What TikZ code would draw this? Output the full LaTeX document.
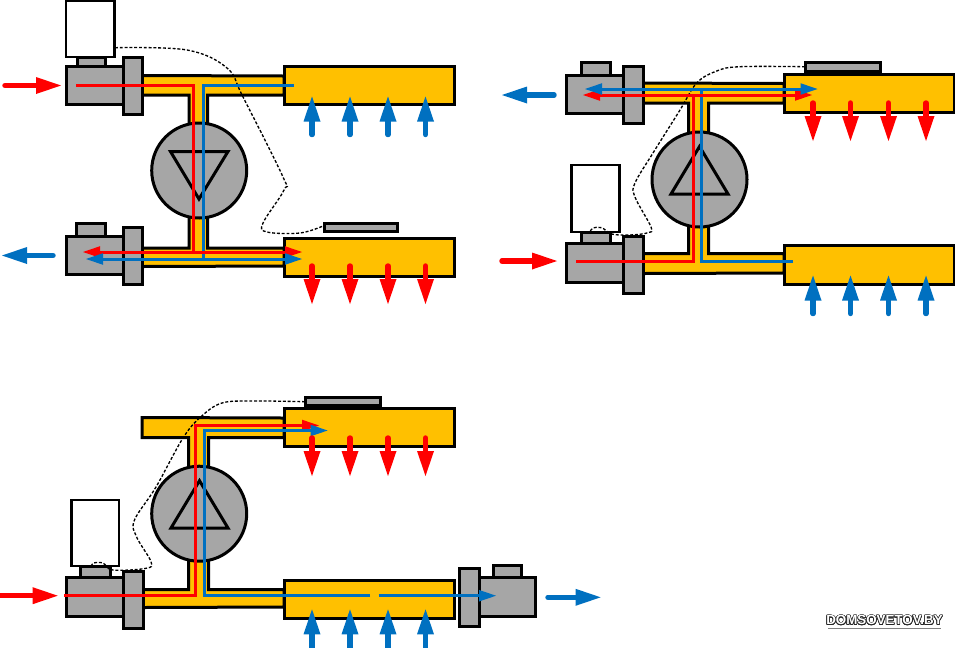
\documentclass[tikz,border=0pt]{standalone}
\usepackage{xcolor}
\usepackage{contour}
\usepackage{fontspec}
\setsansfont{Liberation Sans}
\definecolor{hotred}{RGB}{255,0,0}
\definecolor{coldblue}{RGB}{0,112,192}
\contourlength{0.45pt}
\tikzset{
  casing/.style={fill={rgb, 255:red, 166; green, 166; blue, 166 }, line width=2.25pt},
  waterpipe/.style={fill={rgb, 255:red, 255; green, 192; blue, 0 }, line width=2.25pt},
  actuator/.style={fill=white, line width=1.9pt},
  wire/.style={line width=1pt, dash pattern=on 2.2pt off 1.4pt},
  flowline/.style={line width=2.25pt},
  fatline/.style={line width=4.1pt, line cap=round}
}
%tips: (0,0) is the point, rotate = 180 looks right, -90 looks down
\newcommand{\bighead}[3]{\fill [#1, shift={(#2)}, rotate=#3] (25,-8.5) -- (0,0) -- (25,8.5) -- cycle ;}
\newcommand{\thinhead}[3]{\fill [#1, shift={(#2)}, rotate=#3] (17,-5.8) -- (0,0) -- (17,5.8) -- cycle ;}
\newcommand{\fatdown}[3]{\draw [fatline, #1] (#2,#3-38) -- (#2,#3-24) ; \bighead{#1}{#2,#3}{-90}}
\newcommand{\fatup}[3]{\draw [fatline, #1] (#2,#3+38) -- (#2,#3+24) ; \bighead{#1}{#2,#3}{90}}
\newcommand{\fatright}[4]{\draw [fatline, #1] (#2,#4) -- (#3-24,#4) ; \bighead{#1}{#3,#4}{180}}
\newcommand{\fatleft}[4]{\draw [fatline, #1] (#2,#4) -- (#3+24,#4) ; \bighead{#1}{#3,#4}{0}}

\begin{document}
\begin{tikzpicture}[x=0.75pt,y=0.75pt,yscale=-1,xscale=1]
\useasboundingbox (0,0) rectangle (955,647);

%Pipes, left top
\draw [waterpipe] (142,75.5) -- (284,76) -- (284,95) -- (207.5,95) -- (207.5,130) -- (189,130) -- (189,95) -- (142,95) -- cycle ;
\draw [waterpipe] (142,266.5) -- (284,266) -- (284,248) -- (207.5,248) -- (207.5,210) -- (189,210) -- (189,248) -- (142,248) -- cycle ;
%Pump
\draw [casing] (199.2,170.5) circle (47.5) ;
\draw [line width=2.25pt] (170.5,151.5) -- (228,151.5) -- (199,199) -- cycle ;
%Valves
\draw [casing] (66,66) -- (123,66) -- (123,104.5) -- (66,104.5) -- cycle ;
\draw [casing] (123,57) -- (142.5,57) -- (142.5,114) -- (123,114) -- cycle ;
\draw [casing] (77,57) -- (105,57) -- (105,66) -- (77,66) -- cycle ;
\draw [actuator] (66,0.5) -- (114.5,0.5) -- (114.5,57) -- (66,57) -- cycle ;
\draw [casing] (76,223) -- (105,223) -- (105,236) -- (76,236) -- cycle ;
\draw [casing] (66,236) -- (123,236) -- (123,274) -- (66,274) -- cycle ;
\draw [casing] (123,227) -- (142.5,227) -- (142.5,284) -- (123,284) -- cycle ;
%Manifolds
\draw [waterpipe] (284,66.5) -- (454.5,66.5) -- (454.5,104.5) -- (284,104.5) -- cycle ;
\draw [waterpipe] (284,238.5) -- (454.5,238.5) -- (454.5,276.5) -- (284,276.5) -- cycle ;
\draw [casing] (324,223) -- (397,223) -- (397,231) -- (324,231) -- cycle ;
%Wire
\draw [wire] plot [smooth, tension=0.6] coordinates {(115,47.7) (187,50) (227,68) (243,97) (283,177) (284,190) (263,223) (267,232) (300,233) (323,226)} ;
%Straight Lines
\draw [flowline, hotred] (76,85.5) -- (193,85.5) -- (193,252) ;
\draw [flowline, coldblue] (294,85.5) -- (203,85.5) -- (203,259) ;
\draw [flowline, hotred] (95,252) -- (290,252) ;
\thinhead{hotred}{83,252}{0}
\thinhead{hotred}{302,252}{180}
\draw [flowline, coldblue] (98,259) -- (290,259) ;
\thinhead{coldblue}{86,259}{0}
\thinhead{coldblue}{302,259}{180}
\fatright{hotred}{5}{61}{85.5}
\fatleft{coldblue}{53}{2}{255.5}
\fatup{coldblue}{312}{96.5}
\fatup{coldblue}{350}{96.5}
\fatup{coldblue}{388}{96.5}
\fatup{coldblue}{425.5}{96.5}
\fatdown{hotred}{312}{304}
\fatdown{hotred}{350}{304}
\fatdown{hotred}{388}{304}
\fatdown{hotred}{425.5}{304}

%Pipes, right top
\draw [waterpipe] (643,83) -- (784,83.5) -- (784,103) -- (708.5,103) -- (708.5,140) -- (688.5,140) -- (688.5,103) -- (643,103) -- cycle ;
\draw [waterpipe] (643,273.5) -- (784,273) -- (784,253.5) -- (708.5,253.5) -- (708.5,220) -- (688.5,220) -- (688.5,253.5) -- (643,253.5) -- cycle ;
%Pump
\draw [casing] (699.5,179.5) circle (47.5) ;
\draw [line width=2.25pt] (671,194) -- (728,194) -- (699.5,146.5) -- cycle ;
%Valves
\draw [casing] (581,62.5) -- (610,62.5) -- (610,75) -- (581,75) -- cycle ;
\draw [casing] (566.7,75) -- (623.5,75) -- (623.5,113) -- (566.7,113) -- cycle ;
\draw [casing] (623.5,66) -- (643,66) -- (643,123) -- (623.5,123) -- cycle ;
\draw [casing] (581,232) -- (610,232) -- (610,243.5) -- (581,243.5) -- cycle ;
\draw [actuator] (571.5,165) -- (619.5,165) -- (619.5,232) -- (571.5,232) -- cycle ;
\draw [casing] (566.7,243.5) -- (623.5,243.5) -- (623.5,282) -- (566.7,282) -- cycle ;
\draw [casing] (623.5,236.5) -- (643,236.5) -- (643,293) -- (623.5,293) -- cycle ;
%Manifolds
\draw [waterpipe] (784.3,74) -- (954,74) -- (954,112) -- (784.3,112) -- cycle ;
\draw [waterpipe] (784.3,245.5) -- (954,245.5) -- (954,284) -- (784.3,284) -- cycle ;
\draw [casing] (805,62.5) -- (880,62.5) -- (880,71) -- (805,71) -- cycle ;
%Wire
\draw [wire] plot [smooth, tension=0.6] coordinates {(805,66.7) (740,66.7) (716.7,71) (696.7,83) (680,110) (653,153) (635,183) (635,197) (651,227) (648,232.7) (630,235) (611.7,234) (601.7,227.7) (593,228) (590,232)} ;
%Straight Lines
\draw [flowline, hotred] (576,261) -- (693.5,261) -- (693.5,95) ;
\draw [flowline, coldblue] (793,261) -- (701.5,261) -- (701.5,89) ;
\draw [flowline, hotred] (595,95) -- (800,95) ;
\thinhead{hotred}{583,95}{0}
\thinhead{hotred}{812,95}{180}
\draw [flowline, coldblue] (597,89) -- (805,89) ;
\thinhead{coldblue}{585,89}{0}
\thinhead{coldblue}{817.5,89}{180}
\fatright{hotred}{502}{557}{261}
\fatleft{coldblue}{554}{502}{95}
\fatdown{hotred}{813}{141}
\fatdown{hotred}{850.5}{141}
\fatdown{hotred}{888.5}{141}
\fatdown{hotred}{926}{141}
\fatup{coldblue}{813}{275.5}
\fatup{coldblue}{850.5}{275.5}
\fatup{coldblue}{888.5}{275.5}
\fatup{coldblue}{926}{275.5}

%Pipes, left bottom
\draw [waterpipe] (142,417.5) -- (284,418) -- (284,437.7) -- (208.5,437.7) -- (208.5,475) -- (188.5,475) -- (188.5,437.7) -- (142,437.7) -- cycle ;
\draw [waterpipe] (142,607.5) -- (284,607) -- (284,589.5) -- (208.5,589.5) -- (208.5,555) -- (188.5,555) -- (188.5,589.5) -- (142,589.5) -- cycle ;
%Pump
\draw [casing] (199.2,513.7) circle (47.5) ;
\draw [line width=2.25pt] (171,528) -- (228,528) -- (199.5,480.7) -- cycle ;
%Valves
\draw [casing] (80.7,566.7) -- (110,566.7) -- (110,577.7) -- (80.7,577.7) -- cycle ;
\draw [actuator] (71.4,500) -- (119,500) -- (119,566) -- (71.4,566) -- cycle ;
\draw [casing] (66,577.7) -- (123.6,577.7) -- (123.6,616.7) -- (66,616.7) -- cycle ;
\draw [casing] (123.6,571) -- (143,571) -- (143,628) -- (123.6,628) -- cycle ;
\draw [casing] (493.4,565) -- (521.4,565) -- (521.4,577.7) -- (493.4,577.7) -- cycle ;
\draw [casing] (479,577.7) -- (535.5,577.7) -- (535.5,616.7) -- (479,616.7) -- cycle ;
\draw [casing] (459.4,568.3) -- (479,568.3) -- (479,626) -- (459.4,626) -- cycle ;
%Manifolds
\draw [waterpipe] (284,408) -- (454.5,408) -- (454.5,446) -- (284,446) -- cycle ;
\draw [waterpipe] (284,580.7) -- (454.5,580.7) -- (454.5,618) -- (284,618) -- cycle ;
\draw [casing] (305,397) -- (380,397) -- (380,405) -- (305,405) -- cycle ;
%Wire
\draw [wire] plot [smooth, tension=0.6] coordinates {(305,401.7) (253.5,401) (222,403) (201,416.7) (183,438) (156,487) (134.5,520) (136.5,536.7) (151,561.7) (146,568.3) (113,570) (103,563) (93.6,563) (91.7,565.7)} ;
%Straight Lines
\draw [flowline, hotred] (64,595.7) -- (195,595.7) -- (195,425.5) -- (305,425.5) ;
\thinhead{hotred}{319,425.5}{180}
\draw [flowline, coldblue] (370,595.7) -- (204.7,595.7) -- (204.7,430.5) -- (315,430.5) ;
\thinhead{coldblue}{327.6,430.5}{180}
\draw [flowline, coldblue] (378.5,595.7) -- (482,595.7) ;
\thinhead{coldblue}{496,595.7}{180}
\fatright{hotred}{-5}{57.7}{595.7}
\fatright{coldblue}{548}{600.6}{597.3}
\fatdown{hotred}{312}{476}
\fatdown{hotred}{350}{476}
\fatdown{hotred}{388}{476}
\fatdown{hotred}{425.5}{476}
\fatup{coldblue}{312}{609.3}
\fatup{coldblue}{350}{609.3}
\fatup{coldblue}{388}{609.3}
\fatup{coldblue}{425.5}{609.3}

% Text Node
\draw (884.5,620.5) node [inner sep=0.75pt] (sitemark) {\fontsize{10}{12}\sffamily\bfseries\contour{black!85}{\textcolor{white}{DOMSOVETOV.BY}}};
\draw [line width=1.2pt, black!50] (828,628.5) -- (941,628.5) ;

\end{tikzpicture}
\end{document}
